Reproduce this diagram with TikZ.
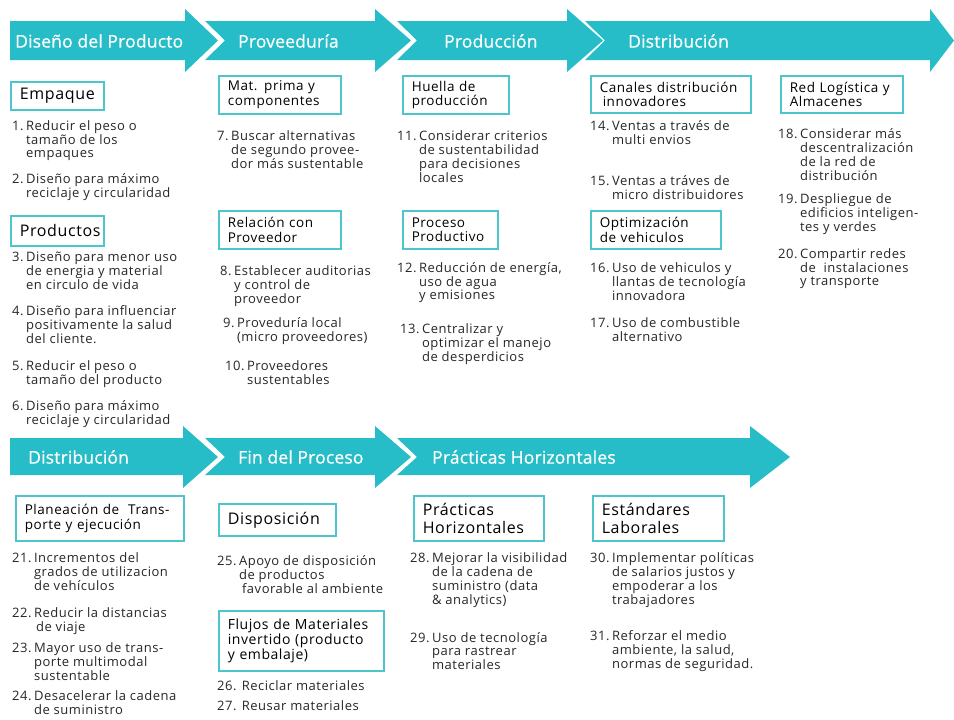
\documentclass[tikz,border=0pt]{standalone}
\usepackage{fontspec}
\setmainfont{Open Sans}[LetterSpace=4]
\newfontfamily\hdfont{Open Sans}[FakeBold=0.6, LetterSpace=1]
\usetikzlibrary{positioning}

\definecolor{tealband}{HTML}{27BDC8}
\definecolor{tealline}{HTML}{4CC5CC}
\definecolor{txtgray}{HTML}{262626}

% numbered entry with hanging indent
\newcommand{\nitem}[2]{\begin{tabular}[t]{@{}l@{\hspace{2.5pt}}l@{}}#1 & \begin{tabular}[t]{@{}l@{}}#2\end{tabular}\end{tabular}}

\begin{document}
\begin{tikzpicture}[
    x=1pt, y=-1pt,
    band/.style={fill=tealband},
    hdr/.style={anchor=west, text=white, inner sep=0pt, font=\hdfont\fontsize{17.5}{19}\selectfont},
    ttl/.style={draw=tealline, line width=1.6pt, fill=white, anchor=north west, align=left, inner xsep=9pt, inner ysep=2pt, text=black},
    ttlbig/.style={ttl, font=\fontsize{16}{17.5}\selectfont},
    ttlmid/.style={ttl, font=\fontsize{13.5}{14.5}\selectfont},
    itm/.style={anchor=north west, inner sep=0pt, text=txtgray, font=\fontsize{13}{13.8}\selectfont},
  ]
  \useasboundingbox (0,0) rectangle (954,720);

  % header arrows, row 1
  \fill[band] (10,21) -- (185,21) -- (185,9) -- (218,40.5) -- (185,72) -- (185,60) -- (10,60) -- cycle;
  \foreach \xs/\xb/\xt in {205/375/411, 397/567/603, 585/930/954}
    \fill[band] (\xs,21) -- (\xb,21) -- (\xb,9) -- (\xt,40.5) -- (\xb,72) -- (\xb,60) -- (\xs,60) -- (\xs+20,40.5) -- cycle;
  % header arrows, row 2
  \fill[band] (10,438) -- (183,438) -- (183,426) -- (218,457) -- (183,488) -- (183,475) -- (10,475) -- cycle;
  \foreach \xs/\xb/\xt in {205/375/411, 397/750/790}
    \fill[band] (\xs,438) -- (\xb,438) -- (\xb,426) -- (\xt,457) -- (\xb,488) -- (\xb,475) -- (\xs,475) -- (\xs+20,457) -- cycle;

  \node[hdr] (hdis) at (15,41) {Diseño del Producto};
  \node[hdr] (hpro) at (238,41) {Proveeduría};
  \node[hdr] (hprd) at (444,41) {Producción};
  \node[hdr] (hdst) at (628,41) {Distribución};
  \node[hdr] (hdst2) at (28,457) {Distribución};
  \node[hdr] (hfin) at (238,457) {Fin del Proceso};
  \node[hdr] (hhor) at (432,457) {Prácticas Horizontales};

  % column 1: diseno del producto
  \node[ttlbig, text width=75, minimum height=28] (empq) at (10,81) {Empaque};
  \node[itm] (i1) at (12,120) {\nitem{1.}{Reducir el peso o\\tamaño de los\\empaques}};
  \node[itm] (i2) at (12,173) {\nitem{2.}{Diseño para máximo\\reciclaje y circularidad}};
  \node[ttlbig, text width=75, minimum height=30] (prds) at (10,215) {Productos};
  \node[itm] (i3) at (12,252) {\nitem{3.}{Diseño para menor uso\\de energia y material\\en circulo de vida}};
  \node[itm] (i4) at (12,305) {\nitem{4.}{Diseño para influenciar\\positivamente la salud\\del cliente.}};
  \node[itm] (i5) at (12,360) {\nitem{5.}{Reducir el peso o\\tamaño del producto}};
  \node[itm] (i6) at (12,400) {\nitem{6.}{Diseño para máximo\\reciclaje y circularidad}};

  % column 2: proveeduria
  \node[ttlmid, text width=104, minimum height=38] (matp) at (218,75) {Mat. prima y\\componentes};
  \node[itm] (i7) at (217,130) {\nitem{7.}{Buscar alternativas\\de segundo provee-\\dor más sustentable}};
  \node[ttlmid, text width=104, minimum height=38] (relp) at (218,210) {Relación con\\Proveedor};
  \node[itm] (i8) at (220,265) {\nitem{8.}{Establecer auditorias\\y control de\\proveedor}};
  \node[itm] (i9) at (223,317) {\nitem{9.}{Proveduría local\\(micro proveedores)}};
  \node[itm] (i10) at (225,360) {\nitem{10.}{Proveedores\\sustentables}};

  % column 3: produccion
  \node[ttlmid, text width=88, minimum height=38] (huel) at (402,75) {Huella de\\producción};
  \node[itm] (i11) at (397,130) {\nitem{11.}{Considerar criterios\\de sustentabilidad\\para decisiones\\locales}};
  \node[ttlmid, text width=77, minimum height=38] (proc) at (402,210) {Proceso\\Productivo};
  \node[itm] (i12) at (397,262) {\nitem{12.}{Reducción de energía,\\uso de agua\\y emisiones}};
  \node[itm] (i13) at (400,323) {\nitem{13.}{Centralizar y\\optimizar el manejo\\de desperdicios}};

  % column 4: distribucion
  \node[ttlmid, text width=142, minimum height=37] (cana) at (590,75) {Canales distribución\\\hspace*{3pt}innovadores};
  \node[itm] (i14) at (590,120) {\nitem{14.}{Ventas a través de\\multi envios}};
  \node[itm] (i15) at (590,175) {\nitem{15.}{Ventas a tráves de\\micro distribuidores}};
  \node[ttlmid, text width=112, minimum height=38] (optv) at (590,210) {Optimización\\de vehiculos};
  \node[itm] (i16) at (590,262) {\nitem{16.}{Uso de vehiculos y\\llantas de tecnología\\innovadora}};
  \node[itm] (i17) at (590,317) {\nitem{17.}{Uso de combustible\\alternativo}};

  % column 5: red logistica
  \node[ttlmid, text width=104, minimum height=37] (redl) at (780,75) {Red Logística y\\Almacenes};
  \node[itm] (i18) at (778,128) {\nitem{18.}{Considerar más\\descentralización\\de la red de\\distribución}};
  \node[itm] (i19) at (778,193) {\nitem{19.}{Despliegue de\\edificios inteligen-\\tes y verdes}};
  \node[itm] (i20) at (778,248) {\nitem{20.}{Compartir redes\\de \ instalaciones\\y transporte}};

  % row 2, column 1: distribucion
  \node[ttlmid, text width=150, minimum height=45] (plan) at (15,495) {Planeación de \ Trans-\\porte y ejecución};
  \node[itm] (i21) at (12,552) {\nitem{21.}{Incrementos del\\grados de utilizacion\\de vehículos}};
  \node[itm] (i22) at (12,607) {\nitem{22.}{Reducir la distancias\\\hspace*{2pt}de viaje}};
  \node[itm] (i23) at (12,642) {\nitem{23.}{Mayor uso de trans-\\porte multimodal\\sustentable}};
  \node[itm] (i24) at (12,690) {\nitem{24.}{Desacelerar la cadena\\de suministro}};

  % row 2, column 2: fin del proceso
  \node[ttlbig, text width=99, minimum height=32] (disp) at (218,503) {Disposición};
  \node[itm] (i25) at (217,555) {\nitem{25.}{Apoyo de disposición\\de productos\\\hspace*{3pt}favorable al ambiente}};
  \node[ttl, font=\fontsize{14}{12.5}\selectfont, text width=147, minimum height=60] (fluj) at (218,610) {Flujos de Materiales\\invertido (producto\\y embalaje)};
  \node[itm] (i26) at (217,680) {26. Reciclar materiales};
  \node[itm] (i27) at (217,700) {27. Reusar materiales};

  % row 2, column 3: practicas horizontales
  \node[ttlbig, text width=112, minimum height=45] (prac) at (413,495) {Prácticas\\Horizontales};
  \node[itm] (i28) at (410,552) {\nitem{28.}{Mejorar la visibilidad\\de la cadena de\\suministro (data\\\& analytics)}};
  \node[itm] (i29) at (410,632) {\nitem{29.}{Uso de tecnología\\para rastrear\\materiales}};

  % row 2, column 4: estandares laborales
  \node[ttlbig, text width=113, minimum height=45] (esta) at (592,495) {Estándares\\Laborales};
  \node[itm] (i30) at (590,552) {\nitem{30.}{Implementar políticas\\de salarios justos y\\empoderar a los\\trabajadores}};
  \node[itm] (i31) at (590,630) {\nitem{31.}{Reforzar el medio\\ambiente, la salud,\\normas de seguridad.}};
\end{tikzpicture}
\end{document}
